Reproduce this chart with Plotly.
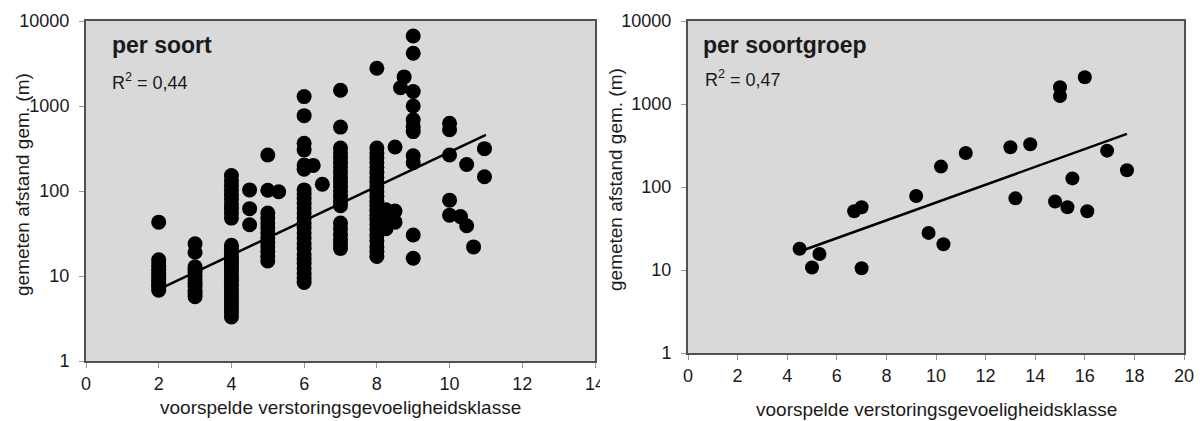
import plotly.graph_objects as go

W, H = 1202, 421

# ---------------- data: per soort (left panel) ----------------
soort_x = (
    [2] * 13 + [3] * 12 + [4] * 30 + [4.5] * 3 + [5] * 13 + [5.3] +
    [6] * 26 + [6.25] + [6.5] + [7] * 21 + [8] * 24 + [8.25] * 3 + [8.5] * 3 +
    [8.65] + [8.75] + [9] * 11 + [10] * 5 + [10.3] + [10.47] * 2 + [10.66] + [10.96] * 2
)
soort_y = (
    [6.8, 7.3, 7.8, 8.3, 8.9, 9.5, 10.2, 11, 12, 13, 14.2, 15.5, 43]
    + [5.7, 6.2, 6.8, 7.5, 8.2, 9, 10, 11, 12, 12.8, 19, 24]
    + [3.3, 3.7, 4.1, 4.6, 5.1, 5.7, 6.3, 7, 7.8, 8.6, 9.5, 10.5, 11.6, 12.8, 14,
       15.5, 17, 19, 21, 23, 48, 55, 62, 70, 80, 90, 102, 115, 132, 152]
    + [40, 62, 103]
    + [15, 17, 19.5, 22, 25, 28, 32, 37, 42, 48, 55, 102, 265]
    + [98]
    + [8.4, 9.5, 10.8, 12.3, 14, 16, 18, 21, 24, 28, 32, 37, 42, 48, 55, 63, 72,
       82, 92, 103, 180, 202, 305, 365, 770, 1290]
    + [200]
    + [120]
    + [21, 24, 27, 31, 36, 42, 67, 76, 86, 98, 112, 128, 145, 165, 190, 215, 245,
       280, 320, 565, 1530]
    + [17, 19.5, 22, 26, 30, 35, 40, 46, 52, 59, 67, 76, 86, 98, 112, 128, 145,
       165, 190, 215, 245, 280, 320, 2780]
    + [36, 45, 60]
    + [43, 58, 330]
    + [1640]
    + [2200]
    + [16.2, 30.4, 215, 260, 500, 570, 690, 1000, 1480, 4170, 6660]
    + [52, 78, 265, 525, 626]
    + [50]
    + [39, 205]
    + [22]
    + [147, 315]
)
soort_trend_x = [2, 11]
soort_trend_y = [6.95, 458]

# ---------------- data: per soortgroep (right panel) ----------------
groep_x = [4.5, 5.0, 5.3, 6.7, 7.0, 7.0, 9.2, 9.7, 10.2, 10.3, 11.2, 13.0, 13.2,
           13.8, 14.8, 15.0, 15.0, 15.3, 15.5, 16.0, 16.1, 16.9, 17.7]
groep_y = [18, 10.7, 15.6, 51, 57, 10.5, 78, 28, 176, 20.4, 257, 301, 73,
           327, 67, 1590, 1250, 57, 127, 2100, 51, 274, 159]
groep_trend_x = [4.5, 17.7]
groep_trend_y = [16.7, 436]

# ---------------- ticks / labels ----------------
y_tickvals = [1, 10, 100, 1000, 10000]
y_ticktext = ["1", "10", "100", "1000", "10000"]
x_title = "voorspelde verstoringsgevoeligheidsklasse"
y_title = "gemeten afstand gem. (m)"
left_title, left_r2 = "per soort", "R<sup>2</sup> = 0,44"
right_title, right_r2 = "per soortgroep", "R<sup>2</sup> = 0,47"

FONT = "Liberation Sans, Arial, sans-serif"
TXT = "#1a1a1a"
DOT = 15


def px_x(p):
    return p / W


def px_y(p):
    return 1 - p / H


fig = go.Figure()
fig.add_trace(go.Scatter(x=soort_x, y=soort_y, mode="markers",
                         marker=dict(size=DOT, color="black", line=dict(width=0)),
                         xaxis="x", yaxis="y", showlegend=False))
fig.add_trace(go.Scatter(x=soort_trend_x, y=soort_trend_y, mode="lines",
                         line=dict(color="black", width=2.5),
                         xaxis="x", yaxis="y", showlegend=False))
fig.add_trace(go.Scatter(x=groep_x, y=groep_y, mode="markers",
                         marker=dict(size=DOT - 1, color="black", line=dict(width=0)),
                         xaxis="x2", yaxis="y2", showlegend=False))
fig.add_trace(go.Scatter(x=groep_trend_x, y=groep_trend_y, mode="lines",
                         line=dict(color="black", width=2.5),
                         xaxis="x2", yaxis="y2", showlegend=False))

common_ax = dict(showline=True, mirror=True, linecolor="#505050", linewidth=2,
                 showgrid=False, zeroline=False, ticks="outside", ticklen=5,
                 tickcolor="#9a9a9a", tickwidth=1, automargin=False,
                 tickfont=dict(family=FONT, size=18, color=TXT))

fig.update_layout(
    width=W, height=H,
    margin=dict(l=0, r=0, t=0, b=0, pad=0, autoexpand=False),
    paper_bgcolor="white",
    plot_bgcolor="#d9d9d9",
    xaxis=dict(domain=[px_x(86), px_x(595)], range=[0, 14], tickvals=list(range(0, 15, 2)),
               anchor="y", **common_ax),
    yaxis=dict(domain=[px_y(361), px_y(21)], type="log", range=[0, 4],
               tickvals=y_tickvals, ticktext=y_ticktext, anchor="x",
               ticklabelstandoff=6, **common_ax),
    xaxis2=dict(domain=[px_x(688), px_x(1184)], range=[0, 20], tickvals=list(range(0, 21, 2)),
                anchor="y2", **common_ax),
    yaxis2=dict(domain=[px_y(353), px_y(21)], type="log", range=[0, 4],
                tickvals=y_tickvals, ticktext=y_ticktext, anchor="x2",
                ticklabelstandoff=6, **common_ax),
)

ann = []


def add_text(text, x, y, size, xanchor="left", bold=False, angle=0):
    ann.append(dict(text=f"<b>{text}</b>" if bold else text,
                    x=px_x(x), y=px_y(y), xref="paper", yref="paper",
                    xanchor=xanchor, yanchor="middle", showarrow=False,
                    textangle=angle, font=dict(family=FONT, size=size, color=TXT)))


add_text(left_title, 110, 45, 23, bold=True)
add_text(left_r2, 110, 82, 18)
add_text(right_title, 701, 45, 23, bold=True)
add_text(right_r2, 703, 79, 18)
add_text(x_title, 340, 407, 19, xanchor="center")
add_text(x_title, 936, 409, 19, xanchor="center")
add_text(y_title, 22, 185, 19, xanchor="center", angle=-90)
add_text(y_title, 615, 180, 19, xanchor="center", angle=-90)
fig.update_layout(annotations=ann)

# white mask cutting the last left tick label as in the source image
fig.add_shape(type="rect", xref="paper", yref="paper",
              x0=px_x(600), x1=px_x(612), y0=px_y(400), y1=px_y(366),
              fillcolor="white", line=dict(width=0), layer="above")

fig.write_html("out.html",
               config={"displayModeBar": False},
               post_script="document.body.style.margin='0px';"
                           "document.body.style.overflow='hidden';")
